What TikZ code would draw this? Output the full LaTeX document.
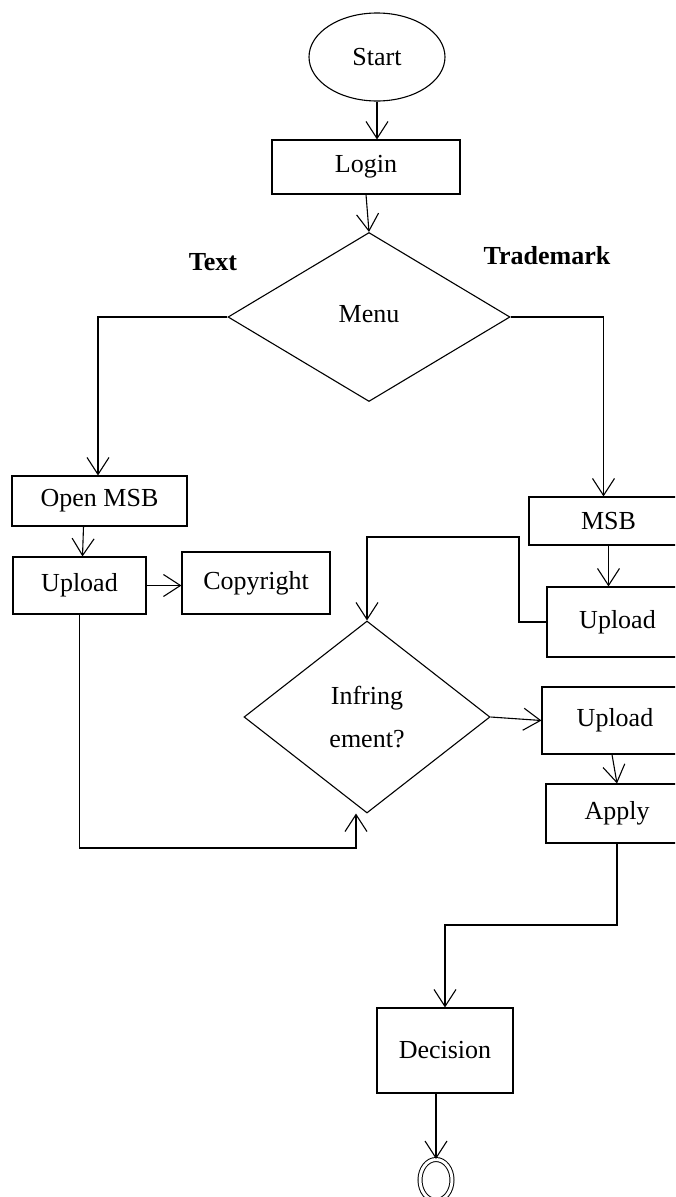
\documentclass[tikz,border=0pt]{standalone}
\usepackage{fontspec}
\setmainfont{Liberation Serif}
\usetikzlibrary{shapes.geometric,arrows.meta}
\begin{document}
\begin{tikzpicture}[x=1pt,y=-1pt,
  every node/.style={font=\fontsize{26}{43}\selectfont, inner sep=0pt},
  box/.style={draw, rectangle, line width=1.1pt},
  dec/.style={draw, diamond, line width=1.1pt},
  lbl/.style={font=\fontsize{26}{30}\selectfont\bfseries},
  arr/.style={line width=1.1pt, -{Straight Barb[length=17pt,width=22pt,line width=1.1pt]}},
  ln/.style={line width=1.1pt}]
\clip (0,0) rectangle (675,1197);
\fill[white] (0,0) rectangle (675,1197);

\node[draw, ellipse, line width=1.1pt, minimum width=136pt, minimum height=88pt] (start) at (377,57) {Start};
\node[box, minimum width=188pt, minimum height=54pt] (login) at (366,167) {Login};
\node[dec, minimum width=282pt, minimum height=169pt] (menu) at (369,317) {\raisebox{6pt}{Menu}};
\node[lbl] (ltext) at (213,262) {Text};
\node[lbl] (ltm) at (547,256) {Trademark};

\node[box, minimum width=175pt, minimum height=50pt] (openmsb) at (99.5,501) {Open MSB};
\node[box, minimum width=133pt, minimum height=57pt] (uploadL) at (79.5,585.5) {Upload};
\node[box, minimum width=148pt, minimum height=62pt] (copy) at (256,583) {Copyright};

\node[box, minimum width=159pt, minimum height=48pt] (msb) at (608.5,521) {MSB};
\node[box, minimum width=141pt, minimum height=70pt] (uploadR) at (617.5,622) {Upload};

\node[dec, minimum width=246pt, minimum height=192pt, align=center] (infr) at (367,717) {Infring\\ement?};
\node[box, minimum width=146pt, minimum height=67pt] (upload2) at (615,720.5) {Upload};
\node[box, minimum width=142pt, minimum height=59pt] (apply) at (617,813.5) {Apply};

\node[box, minimum width=136pt, minimum height=85pt] (decision) at (445,1050.5) {Decision};
\node[draw, ellipse, double, double distance=3pt, line width=1pt, minimum width=32pt, minimum height=41pt] (end) at (436,1180) {};

\coordinate (j1) at (356,848);
\coordinate (j2) at (519,537);
\coordinate (j3) at (445,925);

\draw[arr] (start.south) -- (start.south |- login.north);
\draw[arr] (login.south) -- (menu.north);
\draw[arr] (menu.west) -| ([xshift=-1.5pt]openmsb.north);
\draw[arr] ([xshift=-16pt]openmsb.south) -- ([xshift=3pt]uploadL.north);
\draw[arr] (uploadL.east) -- (uploadL.east -| copy.west);
\draw[arr] (uploadL.south) |- (j1) -- ([xshift=-11pt]infr.south);
\draw[arr] (menu.east) -| ([xshift=-5pt]msb.north);
\draw[arr] (msb.south) -- (msb.south |- uploadR.north);
\draw[arr] (uploadR.west) -| (j2) -| (infr.north);
\draw[arr] (infr.east) -- (upload2.west);
\draw[arr] ([xshift=-3pt]upload2.south) -- (apply.north);
\draw[arr] (apply.south) |- (j3) -- (decision.north);
\draw[arr] (decision.south -| end.north) -- (end.north);
\end{tikzpicture}
\end{document}
